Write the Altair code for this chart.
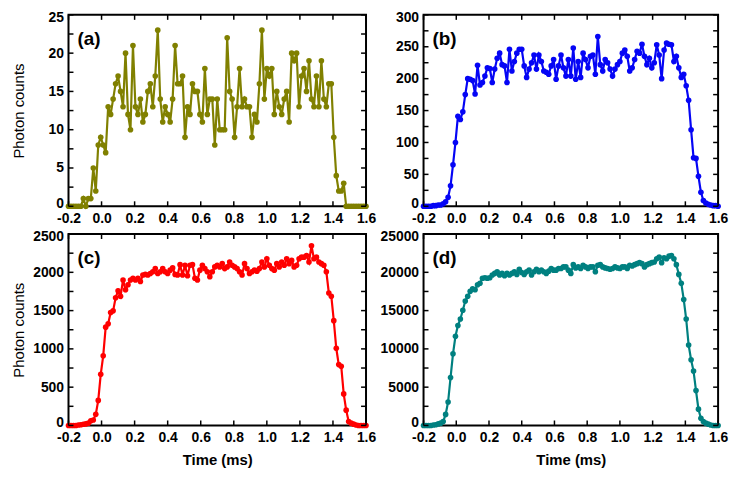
import altair as alt
import pandas as pd

# time bins (ms)
T0 = -0.2
DT = 0.015

counts_a = [0, 0, 0, 0, 0, 0,
            1, 0, 1, 1, 5, 2, 8, 9, 8, 7,
            13, 12, 14, 16, 17, 15, 13, 20, 12, 10, 21, 13,
            12, 14, 11, 12, 15, 16, 13, 17, 23, 14,
            11, 13, 12, 11, 14, 21, 16, 16, 17, 9, 13,
            12, 16, 15, 15, 12, 11, 18, 12, 14,
            14, 8, 14, 10, 10, 10, 22, 15, 14, 9,
            13, 18, 13, 14, 13, 13, 9, 12, 11, 16,
            23, 14, 18, 17, 18, 12, 15, 13, 12, 14,
            15, 11, 20, 19, 20, 13, 17, 18, 15, 19,
            14, 13, 17, 13, 19, 14, 13, 16, 16, 9, 4,
            2, 2, 3,
            0, 0, 0, 0, 0, 0, 0, 0, 0]

counts_b = [0, 0, 0, 0, 1, 1, 2, 2,
            4, 7, 14, 32, 65, 100, 141, 136, 148, 175,
            200, 199, 197, 176, 221, 190, 194, 204, 217, 216,
            194, 215, 232, 240, 222, 220, 194, 246, 212, 227,
            240, 246, 246, 220, 202, 215, 225, 237, 215, 237,
            227, 212, 210, 207, 220, 230,
            199, 220, 237, 217, 204, 230, 204, 248, 199, 227,
            202, 240, 230, 217, 235, 237, 207, 266,
            222, 212, 230, 225, 215, 204, 215, 222, 227, 240,
            245, 235, 212, 217, 230, 243, 240, 254, 235, 222,
            232, 217, 225, 253, 237, 200,
            245, 256, 254, 253, 227, 235, 217, 202, 207, 189,
            166, 120, 76, 75, 47, 22, 9, 5, 3, 2, 1, 1,
            0]

counts_c = [0, 0, 0, 0, 5, 10, 15, 20,
            30, 60, 72, 145, 327, 668, 910, 1284, 1327, 1475,
            1497, 1667, 1760, 1688, 1900, 1773, 1837, 1900, 1922, 1900,
            1922, 1880, 1965, 1973, 1965, 1985, 2007, 2049, 1985, 2007,
            2049, 2007, 1985, 2028, 2058, 1973, 1965, 2100, 1965, 2092,
            1956, 2092, 2100, 1922, 1900, 2028,
            2092, 2049, 2007, 1943, 2007, 2071, 2092, 2071, 2113, 2049,
            2071, 2134, 2092, 2071, 2049, 2007, 1965, 2113, 2049, 1985,
            2007, 2028, 2015, 2049, 2134, 2071, 2177, 2092, 2049, 2028,
            2113, 2071, 2134, 2092, 2177, 2113, 2156, 2071, 2092, 2177,
            2198, 2198, 2219, 2134, 2347, 2177, 2198, 2134, 2113, 2092,
            2007, 1730, 1688, 1369, 1008, 795, 774, 412, 200, 51,
            30, 17, 5,
            0, 0, 0, 0]

counts_d = [0, 0, 0, 0, 50, 100, 200, 300,
            510, 1445, 3061, 6250, 9354, 11650, 13054, 13904, 15052, 16243,
            16880, 17518, 17858, 17730, 18368, 18580, 19218, 19300, 19218, 19300,
            19644, 19857, 20070, 19644, 19857, 19559, 19857, 19644, 19857, 20070,
            19729, 20410, 19984, 19729, 20070, 20282, 19644, 20070, 20410, 20070,
            20282, 20070, 19857, 20155, 20495, 20282,
            20282, 20495, 20495, 20708, 20708, 20282, 19857, 21005, 20580, 20708,
            20495, 20920, 20708, 20495, 20708, 20708, 20070, 20920, 21005, 20708,
            20580, 20495, 20410, 20495, 20708, 20580, 20495, 20708, 20708, 20495,
            20920, 20835, 21005, 21133, 21260, 21133, 20708, 21005, 21133, 21260,
            21345, 21771, 21983, 21260, 21898, 21771, 22110, 22196, 21771, 21005,
            19729, 18580, 16455, 13904, 10502, 8589, 7101, 4550, 2126, 935,
            510, 298, 170, 50,
            0, 0, 0]

x_ticks = [-0.2, 0.0, 0.2, 0.4, 0.6, 0.8, 1.0, 1.2, 1.4, 1.6]
y_labels_a = [0, 5, 10, 15, 20, 25]
y_minor_a = [0, 2.5, 5, 7.5, 10, 12.5, 15, 17.5, 20, 22.5, 25]
y_labels_b = [0, 50, 100, 150, 200, 250, 300]
y_minor_b = [0, 25, 50, 75, 100, 125, 150, 175, 200, 225, 250, 275, 300]
y_labels_c = [0, 500, 1000, 1500, 2000, 2500]
y_minor_c = [0, 250, 500, 750, 1000, 1250, 1500, 1750, 2000, 2250, 2500]
y_labels_d = [0, 5000, 10000, 15000, 20000, 25000]
y_minor_d = [0, 2500, 5000, 7500, 10000, 12500, 15000, 17500, 20000, 22500, 25000]

FONT = "Liberation Sans"
H = 193
TL = 5  # tick length


def panel(counts, color, label, ylabels, yminor, ymax, w, ytitle, xtitle):
    df = pd.DataFrame({"t": [round(T0 + DT * i, 4) for i in range(len(counts))],
                       "c": counts})
    xs = alt.Scale(domain=[-0.2, 1.6], nice=False, zero=False)
    ys = alt.Scale(domain=[0, ymax], nice=False)

    xaxis_kw = dict(values=x_ticks,
                    labelExpr="datum.value < 0 ? '-' + format(-datum.value, '.1f') : format(datum.value, '.1f')",
                    labelFont=FONT, labelFontSize=14, labelFontWeight="bold",
                    labelColor="black", tickSize=0, domain=False, grid=False,
                    labelPadding=5, labelOverlap=False, labelBound=False,
                    labelFlush=False)
    if xtitle:
        xaxis_kw.update(title="Time (ms)", titleFont=FONT, titleFontSize=15,
                        titleFontWeight="bold", titleColor="black",
                        titleY=34, titleBaseline="middle")
    else:
        xaxis_kw.update(title="")
    yaxis_kw = dict(values=ylabels, format="d",
                    labelFont=FONT, labelFontSize=14, labelFontWeight="bold",
                    labelColor="black", tickSize=0, domain=False, grid=False,
                    labelPadding=5, labelOverlap=False, labelBound=False,
                    labelFlush=True, labelFlushOffset=4)
    if ytitle:
        yaxis_kw.update(title="Photon counts", titleFont=FONT, titleFontSize=15,
                        titleFontWeight="normal", titleColor="black",
                        titleX=-50, titleY=H / 2, titleAngle=270,
                        titleBaseline="middle", titleAlign="center")
    else:
        yaxis_kw.update(title="")

    line = alt.Chart(df).mark_line(color=color, strokeWidth=2.2).encode(
        x=alt.X("t:Q", scale=xs, axis=alt.Axis(**xaxis_kw)),
        y=alt.Y("c:Q", scale=ys, axis=alt.Axis(**yaxis_kw)),
    )
    pts = alt.Chart(df).mark_circle(color=color, size=32, opacity=1).encode(
        x=alt.X("t:Q", scale=xs, axis=None),
        y=alt.Y("c:Q", scale=ys, axis=None),
    )

    xt = pd.DataFrame({"t": x_ticks})
    yt = pd.DataFrame({"c": yminor})
    rule = dict(color="black", strokeWidth=1.5)
    bottom = alt.Chart(xt).mark_rule(**rule).encode(
        x=alt.X("t:Q", scale=xs, axis=None), y=alt.value(H), y2=alt.value(H - TL))
    top = alt.Chart(xt).mark_rule(**rule).encode(
        x=alt.X("t:Q", scale=xs, axis=None), y=alt.value(0), y2=alt.value(TL))
    left = alt.Chart(yt).mark_rule(**rule).encode(
        y=alt.Y("c:Q", scale=ys, axis=None), x=alt.value(0), x2=alt.value(TL))
    right = alt.Chart(yt).mark_rule(**rule).encode(
        y=alt.Y("c:Q", scale=ys, axis=None), x=alt.value(w), x2=alt.value(w - TL))

    lab = alt.Chart(pd.DataFrame({"lab": [label]})).mark_text(
        align="left", baseline="middle", font=FONT, fontSize=19,
        fontWeight="bold", color="black").encode(
        x=alt.value(9), y=alt.value(24), text="lab:N")

    return alt.layer(line, pts, bottom, top, left, right, lab).resolve_axis(
        x="independent", y="independent").properties(width=w, height=H)


pa = panel(counts_a, "#808000", "(a)", y_labels_a, y_minor_a, 25, 300, True, False)
pb = panel(counts_b, "#0505f5", "(b)", y_labels_b, y_minor_b, 300, 297, False, False)
pc = panel(counts_c, "#ff0000", "(c)", y_labels_c, y_minor_c, 2500, 300, True, True)
pd_ = panel(counts_d, "#008080", "(d)", y_labels_d, y_minor_d, 25000, 297, False, True)

chart = alt.concat(pa, pb, pc, pd_, columns=2,
                   spacing=alt.RowColnumber(row=28, column=58),
                   bounds="flush", align="each").properties(
    padding={"left": 3, "top": 0, "right": 0, "bottom": 0},
    background="white"
).configure_view(stroke="black", strokeWidth=2).configure_axis(labelOverlap=False)

chart.save("out.html", embed_options={"renderer": "svg", "actions": False})
